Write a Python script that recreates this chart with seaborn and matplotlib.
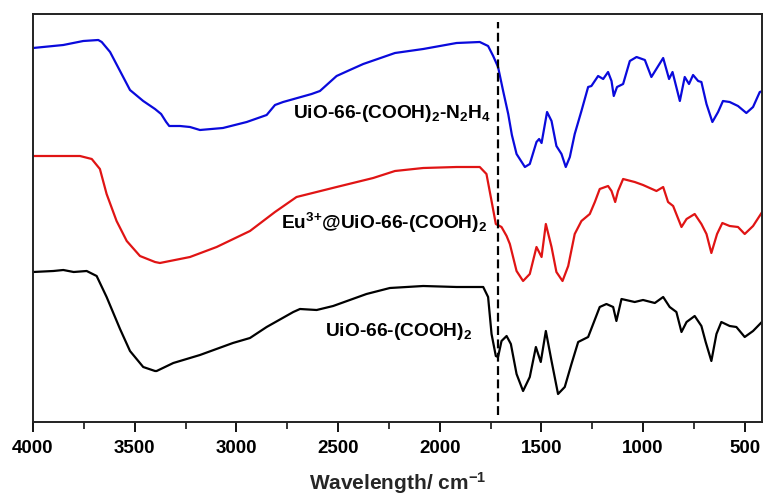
import matplotlib
matplotlib.use("Agg")
import matplotlib.pyplot as plt
from matplotlib.ticker import MultipleLocator
import seaborn as sns
import pandas as pd

# ---------------- data (wavenumber cm-1, transmittance a.u.) ----------------
blue_wn = [4000, 3851, 3753, 3679, 3662, 3621, 3572, 3523, 3458, 3400, 3370, 3345,
           3330, 3277, 3228, 3179, 3066, 2949, 2851, 2810, 2770, 2630, 2589, 2507, 2442,
           2376, 2220, 2081, 1999, 1917, 1803, 1762, 1737, 1713, 1688, 1663, 1645,
           1622, 1581, 1557, 1524, 1511, 1499, 1472, 1450, 1426, 1401, 1380, 1360,
           1336, 1303, 1270, 1254, 1221, 1196, 1172, 1155, 1144, 1128, 1098, 1065,
           1032, 991, 959, 901, 872, 855, 819, 795, 774, 754, 729, 713, 688, 659,
           631, 607, 574, 533, 492, 459, 426, 411]
blue_t = [374, 377, 381, 382, 380, 370, 351, 332, 321, 313, 308, 300,
          296, 296, 295, 292, 294, 300, 307, 317, 320, 328, 331, 346, 352,
          358, 369, 373, 376, 379, 380, 376, 366, 355, 331, 308, 287,
          268, 255, 258, 280, 283, 279, 310, 301, 276, 268, 255, 265,
          288, 311, 335, 336, 346, 343, 350, 341, 326, 335, 338, 361,
          365, 362, 345, 364, 343, 350, 321, 345, 338, 347, 341, 340, 318, 300,
          310, 321, 320, 316, 309, 315, 330, 331]

red_wn = [4000, 3769, 3711, 3671, 3638, 3589, 3539, 3474, 3400, 3376, 3228, 3097,
          2933, 2810, 2704, 2507, 2327, 2220, 2081, 1917, 1803, 1770, 1745, 1724,
          1696, 1671, 1655, 1622, 1590, 1557, 1524, 1499, 1478, 1450, 1426, 1396,
          1368, 1336, 1303, 1262, 1237, 1213, 1172, 1155, 1137, 1123, 1098, 1041,
          1000, 934, 901, 877, 852, 811, 786, 746, 713, 688, 664, 636, 610, 574,
          533, 500, 459, 411]
red_t = [266, 266, 263, 253, 228, 201, 181, 166, 160, 159, 165, 175,
         191, 210, 225, 235, 244, 251, 254, 255, 255, 248, 221, 198,
         195, 186, 178, 151, 141, 148, 175, 165, 198, 175, 150, 141,
         156, 188, 201, 208, 220, 233, 236, 231, 220, 231, 243, 240,
         237, 231, 235, 220, 216, 195, 203, 208, 198, 188, 169, 188, 199, 196,
         195, 188, 196, 211]

black_wn = [4000, 3900, 3851, 3800, 3736, 3687, 3638, 3572, 3523, 3458, 3400, 3392,
            3310, 3179, 3017, 2933, 2851, 2720, 2687, 2605, 2524, 2442, 2360, 2245,
            2081, 1917, 1786,
            1762, 1745, 1724, 1713, 1696, 1671, 1650, 1622, 1590, 1557, 1527, 1503,
            1478, 1450, 1418, 1385, 1352, 1319, 1270, 1213, 1180, 1147, 1131, 1106,
            1041, 1000, 942, 901, 869, 836, 811, 786, 746, 713, 692, 664, 639, 615,
            574, 541, 500, 459, 411]
black_t = [150, 151, 152, 150, 151, 146, 125, 93, 71, 55, 51, 51,
           59, 67, 79, 84, 95, 110, 113, 112, 116, 122, 128, 134,
           136, 135, 135,
           125, 88, 66, 65, 81, 86, 78, 48, 31, 45, 75, 60,
           91, 61, 28, 35, 58, 80, 85, 115, 118, 115, 101, 123,
           120, 122, 119, 125, 115, 110, 90, 100, 106, 96, 80, 61, 88, 100,
           96, 95, 85, 91, 101]

series_names = ["UiO-66-(COOH)2-N2H4", "Eu3+@UiO-66-(COOH)2", "UiO-66-(COOH)2"]
series_colors = ["#0a0adc", "#e01414", "#000000"]
labels = [r"UiO-66-(COOH)$_{2}$-N$_{2}$H$_{4}$",
          r"Eu$^{3{+}}$@UiO-66-(COOH)$_{2}$",
          r"UiO-66-(COOH)$_{2}$"]
label_pos = [(2722, 304), (2781, 193), (2565, 86)]   # (wavenumber, T) of label baseline start

xticks = [4000, 3500, 3000, 2500, 2000, 1500, 1000, 500]
dash_wn = 1715
x_label = r"Wavelength/ cm$^{-1}$"

# ---------------- build table ----------------
frames = []
for name, wn, t in zip(series_names, [blue_wn, red_wn, black_wn], [blue_t, red_t, black_t]):
    frames.append(pd.DataFrame({"wn": wn, "T": t, "sample": name}))
df = pd.concat(frames, ignore_index=True)

# ---------------- plot ----------------
sns.set_theme(style="white")
plt.rcParams["font.family"] = ["Liberation Sans", "DejaVu Sans"]
plt.rcParams["font.weight"] = "bold"
plt.rcParams["mathtext.fontset"] = "custom"
plt.rcParams["mathtext.rm"] = "Liberation Sans:bold"
plt.rcParams["mathtext.bf"] = "Liberation Sans:bold"
plt.rcParams["mathtext.default"] = "bf"

fig = plt.figure(figsize=(7.63, 4.98), dpi=100)
ax = fig.add_axes([33 / 763, 76 / 498, 729 / 763, 408 / 498])

sns.lineplot(data=df, x="wn", y="T", hue="sample", hue_order=series_names,
             palette=series_colors, estimator=None, sort=True, linewidth=1.6,
             legend=False, ax=ax)

ax.vlines(dash_wn, 7, 400, colors="black", linestyles=(0, (4, 2)), linewidth=1.6)

for lab, (lx, ly) in zip(labels, label_pos):
    ax.text(lx, ly, lab, fontsize=13.8, fontweight="bold", ha="left", va="baseline",
            color="black")

ax.set_xlim(4000, 415)
ax.set_ylim(0, 408)
ax.set_xticks(xticks)
ax.xaxis.set_minor_locator(MultipleLocator(250))
ax.set_yticks([])
ax.set_xlabel(x_label, fontsize=15, fontweight="bold", labelpad=9.5)
ax.set_ylabel("")
for lab in ax.get_xticklabels():
    lab.set_fontweight("bold")
    lab.set_fontsize(13.5)
ax.tick_params(axis="x", which="major", direction="out", length=7, width=1.3,
               bottom=True, top=False, pad=6, colors="black")
ax.tick_params(axis="x", which="minor", direction="out", length=5, width=1.3,
               bottom=True, top=False)
for sp in ax.spines.values():
    sp.set_visible(True)
    sp.set_color("#222222")
    sp.set_linewidth(1.4)

fig.savefig("out.png", dpi=100, facecolor="white")
